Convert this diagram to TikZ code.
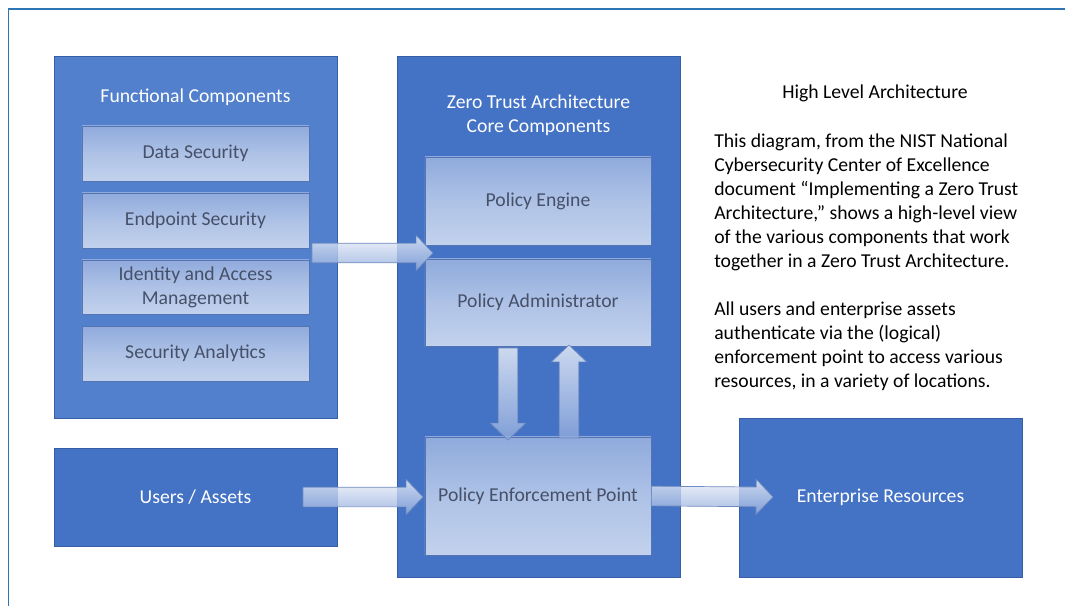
\documentclass[tikz,border=0pt]{standalone}
\usepackage{fontspec}
\setmainfont{Carlito}
\usetikzlibrary{calc}
\definecolor{ztframe}{RGB}{46,117,182}
\definecolor{ztblue}{RGB}{68,114,196}
\definecolor{ztlight}{RGB}{82,128,204}
\definecolor{ztedge}{RGB}{54,94,166}
\definecolor{zttop}{RGB}{143,170,220}
\definecolor{ztmid}{RGB}{174,194,230}
\definecolor{ztbot}{RGB}{194,210,237}
\definecolor{ztinedge}{RGB}{84,116,178}
\definecolor{zttext}{RGB}{70,80,104}
\definecolor{ztarrow}{RGB}{112,140,192}
\tikzstyle{outerbox} = [draw=ztedge, line width=0.6pt, fill=ztblue, minimum width=7.075cm, inner sep=0pt]
\tikzstyle{innerbox} = [draw=ztinedge, line width=0.5pt, top color=zttop, bottom color=ztbot, middle color=ztmid, text=zttext, align=center, inner sep=0pt]
\tikzstyle{whitetext} = [text=white, align=center, inner sep=0pt]
\tikzstyle{bigarrow} = [draw=ztarrow, line width=0.5pt, top color=white!85!zttop, bottom color=zttop, fill opacity=0.8]
% block arrow from #1 to #2
\newcommand{\blockarrow}[2]{%
  \shadedraw[bigarrow] let \p1=#1, \p2=#2,
      \n1={atan2(\y2-\y1,\x2-\x1)}, \n2={veclen(\x2-\x1,\y2-\y1)} in
    [shift={(\p1)}, rotate=\n1]
    (0pt,-7pt) -- ({\n2*1pt-12pt},-7pt) -- ({\n2*1pt-12pt},-12.5pt) -- ({\n2*1pt},0pt)
    -- ({\n2*1pt-12pt},12.5pt) -- ({\n2*1pt-12pt},7pt) -- (0pt,7pt) -- cycle;}

\begin{document}
\begin{tikzpicture}[x=0.025cm, y=-0.025cm, font=\fontsize{14}{17}\selectfont]
\useasboundingbox (0,0) rectangle (1065,606);
% Frame
\draw[ztframe, line width=1.4pt] (8.5,606) -- (8.5,9) -- (1065,9);

% Functional components
\node[outerbox, fill=ztlight, minimum height=9.05cm] (fc) at (195.5,237) {};
\node[whitetext] (fctitle) at (195.5,97.5) {Functional Components};
\node[innerbox, minimum width=5.675cm, minimum height=1.375cm] (ds) at (195.5,153.5) {Data Security};
\node[innerbox, minimum width=5.675cm, minimum height=1.375cm] (es) at (195.5,220.5) {Endpoint Security};
\node[innerbox, minimum width=5.675cm, minimum height=1.35cm] (iam) at (195.5,287) {Identity and Access\\Management};
\node[innerbox, minimum width=5.675cm, minimum height=1.375cm] (sa) at (195.5,353.5) {Security Analytics};

% Users
\node[outerbox, minimum height=2.45cm, text=white] (ua) at (195.5,497) {Users / Assets};

% Core components
\node[outerbox, minimum height=13.025cm] (zta) at (538.5,316.5) {};
\node[whitetext] (ztatitle) at (538.5,115) {Zero Trust Architecture\\Core Components};
\node[innerbox, minimum width=5.65cm, minimum height=2.2cm] (pe) at (538,201) {Policy Engine};
\node[innerbox, minimum width=5.65cm, minimum height=2.175cm] (pa) at (538,302.5) {Policy Administrator};
\node[innerbox, minimum width=5.65cm, minimum height=2.95cm] (pep) at (538,496) {Policy Enforcement Point};

% Resources
\node[outerbox, minimum height=3.975cm, text=white] (er) at (880.5,497.5) {Enterprise Resources};

% Text
\node (hla) at (875,93.5) {High Level Architecture};
\node[anchor=north west, align=left, inner sep=0pt] (desc) at (714,134)
  {This diagram, from the NIST National\\
   Cybersecurity Center of Excellence\\
   document “Implementing a Zero Trust\\
   Architecture,” shows a high-level view\\
   of the various components that work\\
   together in a Zero Trust Architecture.\\[17pt]
   All users and enterprise assets\\
   authenticate via the (logical)\\
   enforcement point to access various\\
   resources, in a variety of locations.};

% Arrows
\coordinate (fcout) at (312,253);
\coordinate (ztain) at (433,253);
\coordinate (uaout) at (303,497);
\coordinate (pepin) at (423,497);
\coordinate (erin) at (773,497);
\coordinate (paout) at (508,348);
\coordinate (peptop) at (508,440);
\coordinate (pepout) at (569,438);
\coordinate (pain) at (569,345);
\blockarrow{(fcout)}{(ztain)}
\blockarrow{(uaout)}{(pepin)}
\blockarrow{(pep.east)}{(erin)}
\blockarrow{(paout)}{(peptop)}
\blockarrow{(pepout)}{(pain)}
\end{tikzpicture}
\end{document}
